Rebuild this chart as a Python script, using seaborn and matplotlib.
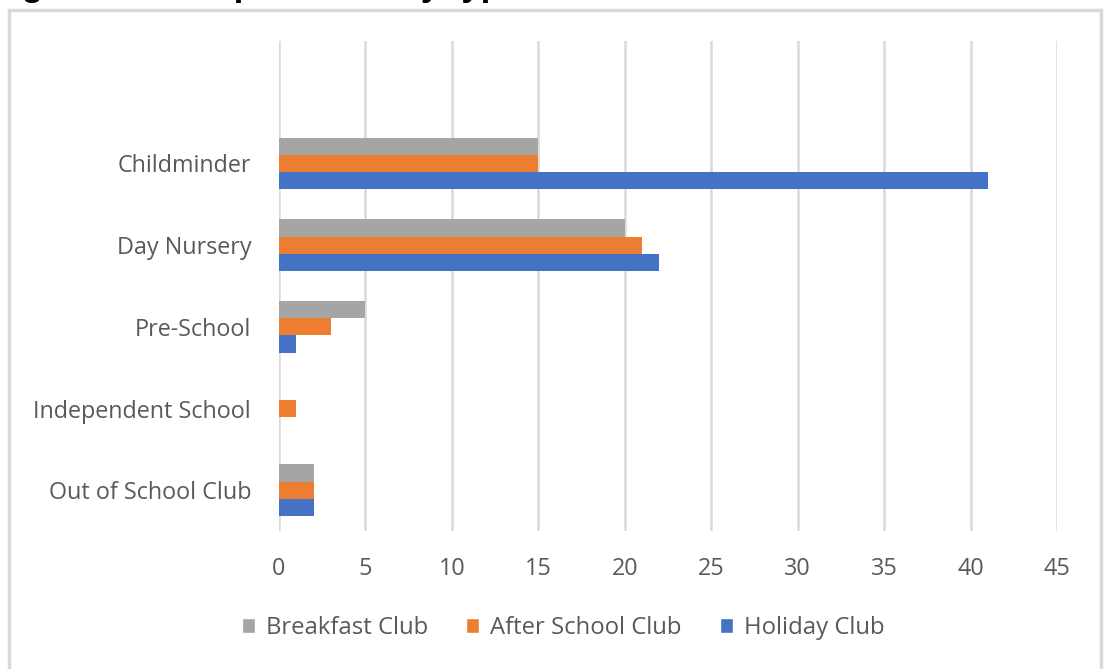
import pandas as pd
import seaborn as sns
import matplotlib.pyplot as plt
from matplotlib.patches import Patch, Rectangle

# chart data
categories = ["Childminder", "Day Nursery", "Pre-School", "Independent School", "Out of School Club"]
clubs = ["Breakfast Club", "After School Club", "Holiday Club"]
breakfast = [15, 20, 5, 0, 2]
after_school = [15, 21, 3, 1, 2]
holiday = [41, 22, 1, 0, 2]
x_ticks = [0, 5, 10, 15, 20, 25, 30, 35, 40, 45]
title = "Figure 1: Club provision by type"

colors = ["#A5A5A5", "#ED7D31", "#4472C4"]
text_grey = "#595959"
grid_grey = "#D9D9D9"

df = pd.DataFrame({
    "category": categories * 3,
    "club": [clubs[0]] * 5 + [clubs[1]] * 5 + [clubs[2]] * 5,
    "value": breakfast + after_school + holiday,
})

sns.set_style("white")
plt.rcParams['font.family'] = ['Open Sans', 'DejaVu Sans']

fig = plt.figure(figsize=(11.05, 6.69), dpi=100)
ax = fig.add_axes([279 / 1105, 1 - 531 / 669, (1057 - 279) / 1105, (531 - 41) / 669])

# blank slot at the top, like the empty row in the original
order = [""] + categories
sns.barplot(data=df, x="value", y="category", hue="club", order=order, hue_order=clubs,
            palette=colors, saturation=1, width=0.63, orient="h", ax=ax, legend=False,
            linewidth=0)

ax.set_xlim(0, 45)
ax.set_xticks(x_ticks)
ax.set_xlabel("")
ax.set_ylabel("")
ax.grid(axis="x", color=grid_grey, lw=1.8)
ax.set_axisbelow(True)
for s in ax.spines.values():
    s.set_visible(False)
ax.tick_params(axis="x", length=0, pad=19, labelsize=16.8, labelcolor=text_grey)
ax.tick_params(axis="y", length=0, pad=20, labelsize=16.8, labelcolor=text_grey)

handles = [Patch(facecolor=c, label=l) for c, l in zip(colors, clubs)]
fig.legend(handles=handles, loc="center", bbox_to_anchor=(563 / 1105, 1 - 628 / 669), ncol=3,
           frameon=False, handlelength=0.55, handleheight=0.55, handletextpad=0.45,
           columnspacing=1.6, fontsize=17.2, labelcolor=text_grey)

# outer chart border and title, cut off at the top edge as in the original
fig.patches.append(Rectangle((9 / 1105, -0.05), 1092 / 1105, 1.05 - 10 / 669, transform=fig.transFigure,
                             fill=False, edgecolor=grid_grey, lw=2.5))
fig.text(-9 / 1105, 1 + 4 / 669, title, fontsize=25, fontweight="bold", family="Liberation Sans",
         va="baseline", ha="left", color="black")

fig.savefig("out.png", dpi=100)
